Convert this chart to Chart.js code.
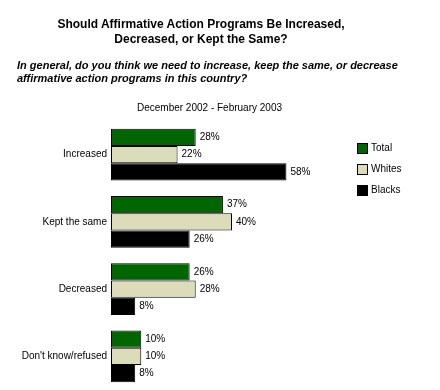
<!DOCTYPE html>
<html><head><meta charset="utf-8">
<script src="https://cdn.jsdelivr.net/npm/chart.js@4/dist/chart.umd.min.js"></script>
<style>
html,body{margin:0;padding:0;background:#fff;}
#wrap{position:relative;width:440px;height:390px;overflow:hidden;font-family:"Liberation Sans",Arial,sans-serif;color:#000;}
canvas{position:absolute;left:0;top:0;}
.t{position:absolute;white-space:nowrap;}
#title{left:0;width:402px;top:17px;text-align:center;font-weight:bold;font-size:12px;line-height:15px;}
#sub{left:17px;top:59px;font-weight:bold;font-style:italic;font-size:11px;line-height:13px;}
#date{left:0;width:419px;top:102px;text-align:center;font-size:10px;}
.lg{position:absolute;left:357px;font-size:10px;}
.lg span{position:absolute;left:0;top:0;width:9px;height:9px;border:1px solid #000;}
.lg b{position:absolute;left:14px;top:-1px;font-weight:normal;}
</style></head>
<body><div id="wrap">
<canvas id="c" width="440" height="400"></canvas>
<div class="t" id="title">Should Affirmative Action Programs Be Increased,<br>Decreased, or Kept the Same?</div>
<div class="t" id="sub">In general, do you think we need to increase, keep the same, or decrease<br>affirmative action programs in this country?</div>
<div class="t" id="date">December 2002 - February 2003</div>
<div id="legend"></div>
</div>
<script>
const categories = ["Increased", "Kept the same", "Decreased", "Don't know/refused"];
const seriesNames = ["Total", "Whites", "Blacks"];
const totalValues = [28, 37, 26, 10];
const whitesValues = [22, 40, 28, 10];
const blacksValues = [58, 26, 8, 8];
const seriesColors = ["#006600", "#DCDCBA", "#000000"];

const legend = document.getElementById('legend');
seriesNames.forEach((n, i) => {
  const d = document.createElement('div');
  d.className = 'lg';
  d.style.top = (143 + i * 21) + 'px';
  d.innerHTML = '<span style="background:' + seriesColors[i] + '"></span><b>' + n + '</b>';
  legend.appendChild(d);
});

const valueLabels = {
  id: 'valueLabels',
  afterDatasetsDraw(chart) {
    const ctx = chart.ctx;
    ctx.save();
    ctx.font = '10px "Liberation Sans", Arial, sans-serif';
    ctx.fillStyle = '#000';
    ctx.textAlign = 'left';
    ctx.textBaseline = 'middle';
    chart.data.datasets.forEach((ds, di) => {
      chart.getDatasetMeta(di).data.forEach((bar, i) => {
        ctx.fillText(ds.data[i] + '%', bar.x + 4, bar.y);
      });
    });
    ctx.restore();
  }
};

new Chart(document.getElementById('c'), {
  type: 'bar',
  data: {
    labels: categories,
    datasets: [
      { label: seriesNames[0], data: totalValues, backgroundColor: seriesColors[0] },
      { label: seriesNames[1], data: whitesValues, backgroundColor: seriesColors[1] },
      { label: seriesNames[2], data: blacksValues, backgroundColor: seriesColors[2] }
    ]
  },
  options: {
    indexAxis: 'y',
    responsive: false,
    animation: false,
    devicePixelRatio: 1,
    layout: { padding: { top: 121, bottom: 0, left: 0, right: 87 } },
    datasets: { bar: { borderColor: '#000', borderWidth: 1, barPercentage: 1, categoryPercentage: 0.77, borderSkipped: false } },
    plugins: { legend: { display: false }, tooltip: { enabled: false } },
    scales: {
      x: { display: false, min: 0, max: 80 },
      y: {
        grid: { display: false, drawTicks: false },
        border: { display: false },
        ticks: { color: '#000', padding: 4, font: { family: '"Liberation Sans", Arial, sans-serif', size: 10 } },
        afterFit(s) { s.width = 111; }
      }
    }
  },
  plugins: [valueLabels]
});
</script>
</body></html>
